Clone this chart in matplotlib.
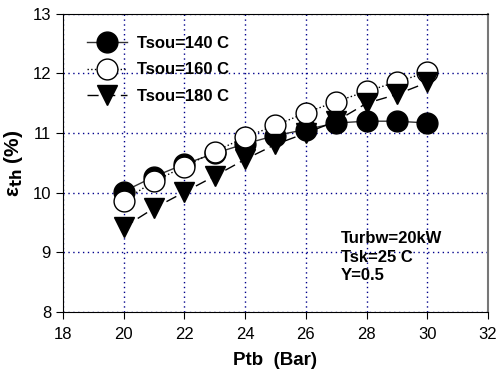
import matplotlib
matplotlib.use("Agg")
import matplotlib.pyplot as plt

plt.rcParams['font.family'] = ['Liberation Sans', 'DejaVu Sans']

ptb = [20, 21, 22, 23, 24, 25, 26, 27, 28, 29, 30]
eth_140 = [10.02, 10.27, 10.48, 10.66, 10.82, 10.96, 11.06, 11.17, 11.20, 11.20, 11.17]
eth_160 = [9.87, 10.19, 10.44, 10.69, 10.93, 11.13, 11.34, 11.53, 11.70, 11.86, 12.02]
eth_180 = [9.42, 9.74, 10.01, 10.28, 10.56, 10.81, 11.00, 11.20, 11.50, 11.65, 11.85]

fig = plt.figure(figsize=(4.99, 3.75), dpi=100)
ax = fig.add_axes([0.126, 0.168, 0.852, 0.795])

ms = 15
ax.plot(ptb, eth_140, '-', color='#333333', lw=1, marker='o', ms=ms,
        mfc='black', mec='black', label='Tsou=140 C', zorder=3)
ax.plot(ptb, eth_160, ':', color='black', lw=1, marker='o', ms=ms,
        mfc='white', mec='black', label='Tsou=160 C', zorder=4)
ax.plot(ptb, eth_180, '--', color='black', lw=1, dashes=(8, 4), marker='v', ms=ms,
        mfc='black', mec='black', label='Tsou=180 C', zorder=5)

ax.set_xlim(18, 32)
ax.set_ylim(8, 13)
ax.set_xticks(range(18, 33, 2))
ax.set_yticks(range(8, 14))
ax.grid(True, color='#00008b', ls=(0, (1, 2.5)), lw=1)
ax.set_axisbelow(True)

ax.tick_params(direction='out', length=5, labelsize=12, top=False, right=False)
ax.tick_params(axis='x', pad=6)
for s in ['left', 'bottom', 'top']:
    ax.spines[s].set_color('black')
ax.spines['right'].set_color('#777777')
ax.spines['right'].set_linewidth(1.5)

ax.set_xlabel('Ptb  (Bar)', fontsize=13.5, fontweight='bold', labelpad=7)
ax.set_ylabel(r'ε$_{\mathbf{th}}$ (%)', fontsize=15, fontweight='bold', labelpad=5)

leg = ax.legend(loc='upper left', frameon=False, handlelength=2.4,
                prop={'weight': 'bold', 'size': 12}, bbox_to_anchor=(0.04, 0.948),
                borderaxespad=0, labelspacing=0.68, handletextpad=0.6)

# operating conditions note
ax.text(27.15, 8.92, 'Turbw=20kW\nTsk=25 C\nY=0.5', fontsize=12, fontweight='bold',
        va='center', ha='left', linespacing=1.28)

fig.savefig('out.png', dpi=100)
